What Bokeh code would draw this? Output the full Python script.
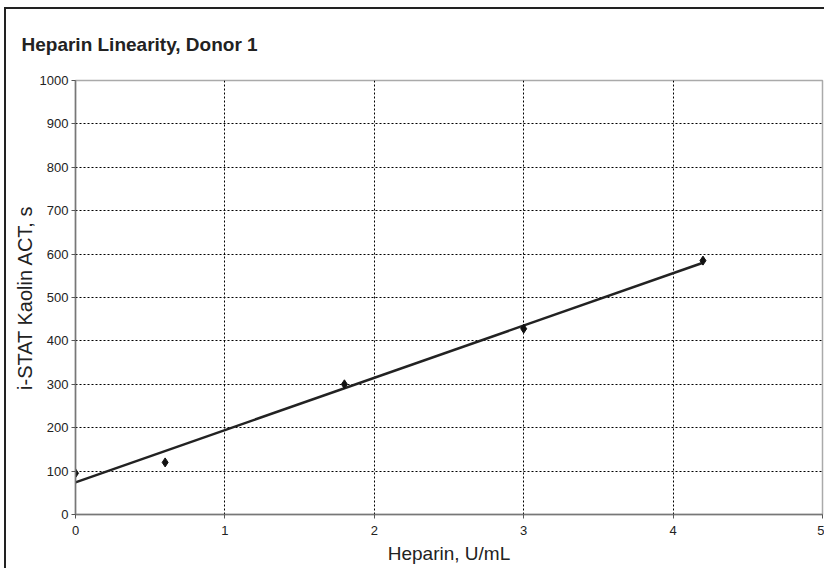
from bokeh.plotting import figure
from bokeh.models import Range1d, FixedTicker, ColumnDataSource
from bokeh.embed import file_html
from bokeh.resources import INLINE

heparin = [0.0, 0.6, 1.8, 3.0, 4.2]
act = [95, 120, 300, 428, 585]
fit_x = [0.0, 4.2]
fit_y = [74, 580]
x_ticks = [0, 1, 2, 3, 4, 5]
y_ticks = [0, 100, 200, 300, 400, 500, 600, 700, 800, 900, 1000]

FONT = "Liberation Sans"

p = figure(width=820, height=561, output_backend="svg", toolbar_location=None,
           x_range=Range1d(0, 5), y_range=Range1d(0, 1000),
           min_border_left=69, min_border_right=4, min_border_top=71, min_border_bottom=56,
           title="Heparin Linearity, Donor 1")
p.styles = {"border-left": "2px solid #222", "border-top": "2px solid #222",
            "margin-left": "4px", "margin-top": "7px"}

p.title.text_font = FONT
p.title.text_font_size = "19px"
p.title.text_font_style = "bold"
p.title.text_color = "#222"
p.title.align = "left"
p.title.offset = -54
p.title.standoff = 47
p.title.vertical_align = "top"

p.outline_line_color = "#aaa"
p.outline_line_width = 1.5
p.background_fill_color = "white"
p.border_fill_color = "white"

for ax in (p.xaxis[0], p.yaxis[0]):
    ax.axis_line_color = "#777"
    ax.axis_line_width = 1.5
    ax.major_tick_line_color = "#555"
    ax.major_tick_out = 4
    ax.major_tick_in = 0
    ax.minor_tick_line_color = None
    ax.major_label_text_font = FONT
    ax.major_label_text_font_size = "13px"
    ax.major_label_text_color = "#222"
    ax.axis_label_text_font = FONT
    ax.axis_label_text_font_size = "19px"
    ax.axis_label_text_font_style = "normal"
    ax.axis_label_text_color = "#222"

p.yaxis.axis_label_text_font_size = "20px"
p.xaxis.ticker = FixedTicker(ticks=x_ticks)
p.yaxis.ticker = FixedTicker(ticks=y_ticks)
p.xaxis.axis_label = "Heparin, U/mL"
p.yaxis.axis_label = "i-STAT Kaolin ACT, s"
p.xaxis.major_label_standoff = 7
p.xaxis.axis_label_standoff = 5
p.yaxis.major_label_standoff = 3
p.yaxis.axis_label_standoff = 1

for g in (p.xgrid[0], p.ygrid[0]):
    g.grid_line_color = "#000"
    g.grid_line_dash = "2 2"
    g.grid_line_width = 1

src = ColumnDataSource(dict(x=heparin, y=act))
p.line(fit_x, fit_y, line_color="#222", line_width=2.5)
p.scatter("x", "y", source=src, marker="diamond", size=9, color="#111")

open("out.html", "w").write(file_html(p, INLINE))
